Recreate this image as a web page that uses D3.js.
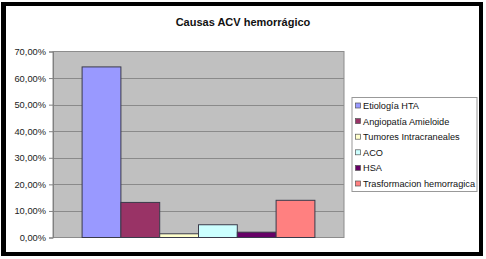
<!DOCTYPE html>
<html>
<head>
<meta charset="utf-8">
<script src="https://cdn.jsdelivr.net/npm/d3@7"></script>
<style>
  body { margin: 0; background: #fff; }
  svg { display: block; font-family: "Liberation Sans", Arial, sans-serif; }
</style>
</head>
<body>
<svg id="chart" width="486" height="259"></svg>
<script>
// Chart data
const title = "Causas ACV hemorrágico";
const causes = ["Etiología HTA", "Angiopatía Amieloide", "Tumores  Intracraneales", "ACO", "HSA", "Trasformacion hemorragica"];
const shares = [0.642, 0.132, 0.014, 0.048, 0.020, 0.140];
const colors = ["#9999FF", "#993366", "#FFFFCC", "#CCFFFF", "#660066", "#FF8080"];
const yTicks = [0, 0.1, 0.2, 0.3, 0.4, 0.5, 0.6, 0.7];

const svg = d3.select("#chart");

// black frame round the picture
svg.append("rect").attr("x", 1).attr("y", 2).attr("width", 482).attr("height", 254).attr("fill", "#000");
svg.append("rect").attr("x", 6).attr("y", 6).attr("width", 473).attr("height", 246).attr("fill", "#fff");

const plot = { left: 53, right: 344, top: 51.5, bottom: 237.5 };

const y = d3.scaleLinear().domain([0, 0.7]).range([plot.bottom, plot.top]);
const x = d3.scaleBand().domain(causes).range([plot.left, plot.right]).paddingInner(0).paddingOuter(0.75);

const locale = d3.formatLocale({ decimal: ",", thousands: ".", grouping: [3], currency: ["", "€"] });
const pct = locale.format(".2%");

// plot area
svg.append("rect")
  .attr("x", plot.left).attr("y", plot.top)
  .attr("width", plot.right - plot.left).attr("height", plot.bottom - plot.top)
  .attr("fill", "#C0C0C0").attr("stroke", "#8c8c8c").attr("stroke-width", 1);

// gridlines
svg.append("g").selectAll("line")
  .data(yTicks.filter(d => d > 0 && d < 0.7))
  .enter().append("line")
  .attr("x1", plot.left).attr("x2", plot.right)
  .attr("y1", d => Math.round(y(d)) + 0.5).attr("y2", d => Math.round(y(d)) + 0.5)
  .attr("stroke", "#8a8a8a");

// y axis
const yAxis = svg.append("g")
  .attr("transform", `translate(${plot.left},0)`)
  .call(d3.axisLeft(y).tickValues(yTicks).tickFormat(pct).tickSize(4).tickPadding(3));
yAxis.select(".domain").attr("stroke", "#808080");
yAxis.selectAll(".tick line").attr("stroke", "#808080");
yAxis.selectAll("text").attr("font-size", 9.3).attr("fill", "#222").attr("font-family", "Liberation Sans, Arial, sans-serif");

// bars
svg.append("g").selectAll("rect")
  .data(causes)
  .enter().append("rect")
  .attr("x", d => x(d))
  .attr("y", (d, i) => y(shares[i]))
  .attr("width", x.bandwidth())
  .attr("height", (d, i) => y(0) - y(shares[i]))
  .attr("fill", (d, i) => colors[i])
  .attr("stroke", "#3a3a4a").attr("stroke-width", 1);

// title
svg.append("text")
  .attr("x", 243).attr("y", 26)
  .attr("text-anchor", "middle")
  .attr("font-size", 11).attr("font-weight", "bold").attr("fill", "#111")
  .text(title);

// legend
const legend = svg.append("g");
legend.append("rect")
  .attr("x", 352).attr("y", 97.5).attr("width", 125).attr("height", 94)
  .attr("fill", "#fff").attr("stroke", "#999");
const items = legend.selectAll("g.item")
  .data(causes)
  .enter().append("g").attr("class", "item")
  .attr("transform", (d, i) => `translate(355,${105.5 + i * 15.6})`);
items.append("rect")
  .attr("x", 0.5).attr("y", -2.5).attr("width", 5).attr("height", 5)
  .attr("fill", (d, i) => colors[i]).attr("stroke", "#555").attr("stroke-width", 0.7);
items.append("text")
  .attr("x", 8).attr("y", 3.4)
  .attr("font-size", 9.2).attr("fill", "#111")
  .text(d => d);
</script>
</body>
</html>
